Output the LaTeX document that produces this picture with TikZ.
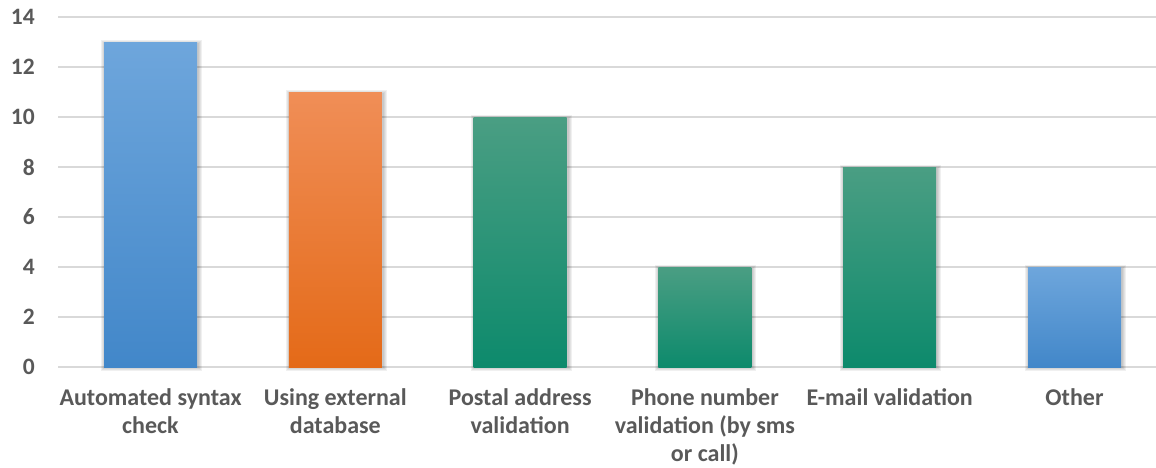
\documentclass[tikz,border=0pt]{standalone}
\usepackage{fontspec}
\setmainfont{Carlito}
\definecolor{txt}{HTML}{595959}
\definecolor{grid}{HTML}{D9D9D9}
\definecolor{blueT}{HTML}{6EA6DC}
\definecolor{blueB}{HTML}{4287C9}
\definecolor{orangeT}{HTML}{F08E57}
\definecolor{orangeB}{HTML}{E46A18}
\definecolor{greenT}{HTML}{4A9E83}
\definecolor{greenB}{HTML}{0D8A6C}
\tikzset{
  gridline/.style={draw=grid, line width=1.6pt},
  ticklabel/.style={anchor=east, text=txt, font=\fontsize{23.5}{28}\selectfont\bfseries, inner sep=0pt},
  catlabel/.style={anchor=base, text=txt, align=center, font=\fontsize{24}{28}\selectfont\bfseries, inner sep=0pt},
  shadowbox/.style={fill=black, fill opacity=0.06, draw=none},
}
\begin{document}
\begin{tikzpicture}[x=1pt,y=-1pt]
\useasboundingbox (0,0) rectangle (1156,467);
% grid lines and tick labels
\foreach \k in {0,2,...,14}{
  \draw[gridline] (58,{367-25*\k}) -- (1156,{367-25*\k});
  \node[ticklabel] (t\k) at (35,{367-25*\k}) {\k};
}
% bars
\foreach \i/\v/\c in {0/13/blue,1/11/orange,2/10/green,3/4/green,4/8/green,5/4/blue}{
  \pgfmathsetmacro{\cx}{150.5+184.8*\i}
  \pgfmathsetmacro{\top}{367-25*\v}
  \foreach \d in {1,2,3,4}{
    \fill[shadowbox] ({\cx-46.5-\d+1},{\top-\d+2}) rectangle ({\cx+46.5+\d+1},{367+\d});
  }
  \shade[top color=\c T, bottom color=\c B] ({\cx-46.5},\top) rectangle ({\cx+46.5},367);
}
% category labels (base anchor = baseline of the last line)
\node[catlabel] (c0) at (150.5,433) {Automated syntax\\check};
\node[catlabel] (c1) at (335.3,433) {Using external\\database};
\node[catlabel] (c2) at (520.1,433) {Postal address\\validation};
\node[catlabel] (c3) at (704.9,461) {Phone number\\validation (by sms\\or call)};
\node[catlabel] (c4) at (889.7,405) {E-mail validation};
\node[catlabel] (c5) at (1074.5,405) {Other};
\end{tikzpicture}
\end{document}
